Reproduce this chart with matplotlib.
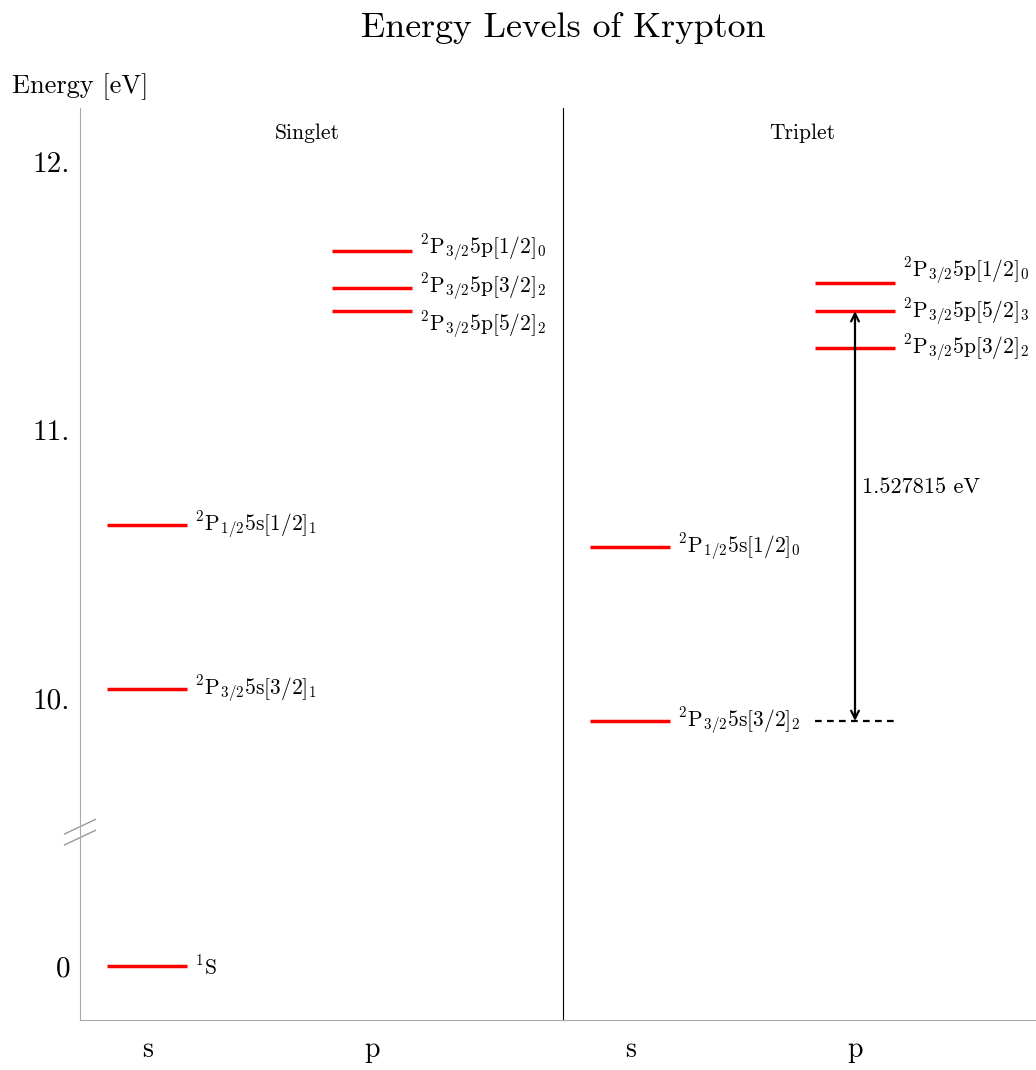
import numpy as np
import matplotlib
import matplotlib.pyplot as plt

matplotlib.use("Agg")
plt.rcParams["font.family"] = "cmr10"
plt.rcParams["mathtext.fontset"] = "cm"
plt.rcParams["axes.unicode_minus"] = False

# energies in eV, x = 0 for s orbitals, 1 for p orbitals
singlet_x = [0, 0, 0, 1, 1, 1]
singlet_e = [0.0, 10.033, 10.644, 11.445, 11.530, 11.666]
singlet_labels = [r"$^1\mathrm{S}$",
                  r"$^2\mathrm{P}_{3/2}5\mathrm{s}[3/2]_1$",
                  r"$^2\mathrm{P}_{1/2}5\mathrm{s}[1/2]_1$",
                  r"$^2\mathrm{P}_{3/2}5\mathrm{p}[5/2]_2$",
                  r"$^2\mathrm{P}_{3/2}5\mathrm{p}[3/2]_2$",
                  r"$^2\mathrm{P}_{3/2}5\mathrm{p}[1/2]_0$"]
singlet_offsets = [0, 0, 0, -0.055, 0, 0.01]

triplet_x = [0, 0, 1, 1, 1]
triplet_e = [9.915, 10.562, 11.304, 11.442815, 11.546]
triplet_labels = [r"$^2\mathrm{P}_{3/2}5\mathrm{s}[3/2]_2$",
                  r"$^2\mathrm{P}_{1/2}5\mathrm{s}[1/2]_0$",
                  r"$^2\mathrm{P}_{3/2}5\mathrm{p}[3/2]_2$",
                  r"$^2\mathrm{P}_{3/2}5\mathrm{p}[5/2]_3$",
                  r"$^2\mathrm{P}_{3/2}5\mathrm{p}[1/2]_0$"]
triplet_offsets = [0, 0, 0, -0.005, 0.045]

transition = (9.915, 11.442815)
gap = 9.0


def forward(e):
    e = np.asarray(e, dtype=float)
    return np.where(e > 5, e - gap, e)


def inverse(y):
    y = np.asarray(y, dtype=float)
    return np.where(y > 0.51, y + gap, y)


fig = plt.figure(figsize=(10.36, 10.7), dpi=100)
ax1 = fig.add_axes([0.0772, 0.0467, 0.4662, 0.8523])
ax2 = fig.add_axes([0.5434, 0.0467, 0.4662, 0.8523], sharey=ax1)
ax2.patch.set_visible(False)

half = 0.178
for ax, xs, es, labels, offs in [(ax1, singlet_x, singlet_e, singlet_labels, singlet_offsets),
                                  (ax2, triplet_x, triplet_e, triplet_labels, triplet_offsets)]:
    ax.set_yscale("function", functions=(forward, inverse))
    for x, e, lab, off in zip(xs, es, labels, offs):
        ax.plot([x - half, x + half], [e, e], color="red", lw=2.5, solid_capstyle="butt")
        ax.text(x + half + 0.035, e + off, lab, fontsize=15.5, va="center", ha="left")
    ax.set_xlim(-0.3, 1.85)
    ax.set_xticks([0, 1])
    ax.set_xticklabels(["s", "p"], fontsize=20)
    ax.tick_params(axis="x", length=0, pad=12)
    ax.spines["top"].set_visible(False)
    ax.spines["bottom"].set_color("#aaaaaa")

ax1.set_ylim(-0.2, 12.2)
ax1.set_yticks([0, 10, 11, 12])
ax1.set_yticklabels(["0", "10.", "11.", "12."], fontsize=21)
ax1.tick_params(axis="y", length=0, pad=7)
ax1.spines["left"].set_color("#aaaaaa")
ax1.spines["right"].set_color("black")
ax1.spines["right"].set_linewidth(0.8)
ax2.tick_params(axis="y", left=False, labelleft=False)
for side in ["left", "right"]:
    ax2.spines[side].set_visible(False)

# break marks on the energy axis
for dy in [0.0, 0.012]:
    ax1.plot([-0.032, 0.032], [0.2 + dy - 0.008, 0.2 + dy + 0.008], transform=ax1.transAxes,
             color="#999999", lw=1, clip_on=False)

ax1.text(0.47, 0.972, "Singlet", transform=ax1.transAxes, ha="center", va="center", fontsize=15.5)
ax2.text(0.495, 0.972, "Triplet", transform=ax2.transAxes, ha="center", va="center", fontsize=15.5)

# transition arrow in the triplet system
lo, hi = transition
ax2.plot([1 - half, 1 + half], [lo, lo], color="black", ls=(0, (3, 2.4)), lw=1.6)
ax2.annotate("", xy=(1, hi), xytext=(1, lo),
             arrowprops=dict(arrowstyle="<->", color="black", lw=1.6, shrinkA=0, shrinkB=0,
                             mutation_scale=14))
ax2.text(1.03, lo + 0.57 * (hi - lo), f"{hi - lo:.6f} eV", fontsize=16, va="center", ha="left")

fig.text(0.544, 0.974, "Energy Levels of Krypton", ha="center", va="center", fontsize=25.8)
fig.text(0.012, 0.919, "Energy [eV]", ha="left", va="center", fontsize=19)

fig.savefig("out.png", dpi=100)
